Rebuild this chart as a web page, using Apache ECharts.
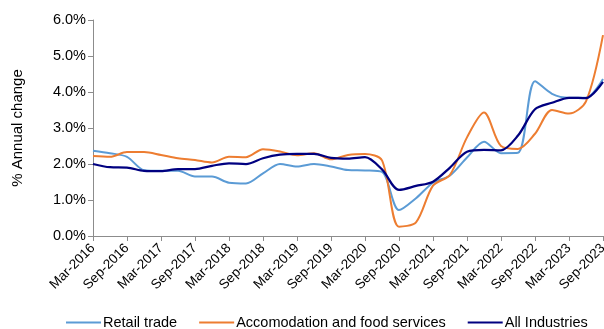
<!DOCTYPE html>
<html>
<head>
<meta charset="utf-8">
<script src="https://cdn.jsdelivr.net/npm/echarts@6/dist/echarts.min.js"></script>
<style>html,body{margin:0;padding:0;background:#fff}#c{width:604px;height:329px}</style>
</head>
<body>
<div id="c"></div>
<script>
const categories = ['Mar-2016','Jun-2016','Sep-2016','Dec-2016','Mar-2017','Jun-2017','Sep-2017','Dec-2017',
  'Mar-2018','Jun-2018','Sep-2018','Dec-2018','Mar-2019','Jun-2019','Sep-2019','Dec-2019',
  'Mar-2020','Jun-2020','Sep-2020','Dec-2020','Mar-2021','Jun-2021','Sep-2021','Dec-2021',
  'Mar-2022','Jun-2022','Sep-2022','Dec-2022','Mar-2023','Jun-2023','Sep-2023'];
const retailTrade = [2.37,2.30,2.20,1.83,1.81,1.81,1.65,1.65,1.48,1.46,1.74,2.00,1.93,2.00,1.93,1.83,
  1.82,1.78,0.72,1.05,1.48,1.68,2.18,2.62,2.30,2.31,4.30,3.95,3.84,3.84,4.36];
const accomFood = [2.22,2.20,2.33,2.33,2.25,2.16,2.11,2.04,2.20,2.19,2.41,2.35,2.24,2.30,2.13,2.25,
  2.28,2.10,0.26,0.38,1.40,1.70,2.74,3.43,2.50,2.42,2.84,3.50,3.40,3.74,5.58];
const allIndustries = [2.00,1.91,1.90,1.81,1.80,1.86,1.86,1.95,2.02,2.00,2.16,2.26,2.28,2.28,2.17,2.15,
  2.19,1.85,1.28,1.39,1.51,1.90,2.34,2.39,2.38,2.79,3.52,3.70,3.84,3.83,4.28];
const yTicks = [0,1,2,3,4,5,6];

const font = 'Liberation Sans, Arial, sans-serif';
const axisColor = '#8c8c8c';
const chart = echarts.init(document.getElementById('c'), null, {renderer:'canvas'});
const mk = (name, data, color, w) => ({
  name, type:'line', data, smooth:0.3, symbol:'none',
  lineStyle:{color, width:w}, itemStyle:{color}
});
chart.setOption({
  animation:false,
  grid:{left:93, right:1, top:20, bottom:93, containLabel:false, outerBoundsMode:'none'},
  legend:{
    left:61, bottom:-6, itemWidth:35, itemHeight:2, itemGap:22, icon:'rect',
    textStyle:{fontFamily:font, fontSize:14.5, color:'#000', padding:[0,0,0,-3]},
    data:['Retail trade','Accomodation and food services','All Industries']
  },
  xAxis:{
    type:'category', data:categories, boundaryGap:false,
    axisLine:{lineStyle:{color:axisColor, width:1}},
    axisTick:{show:true, interval:1, length:5, lineStyle:{color:axisColor}},
    axisLabel:{interval:1, rotate:45, fontFamily:font, fontSize:13.5, color:'#000', margin:10}
  },
  yAxis:{
    type:'value', min:0, max:6, interval:1,
    name:'% Annual change', nameLocation:'middle', nameRotate:90, nameGap:68,
    nameTextStyle:{fontFamily:font, fontSize:15, color:'#000'},
    splitLine:{show:false},
    axisLine:{show:true, lineStyle:{color:axisColor, width:1}},
    axisTick:{show:true, length:5, lineStyle:{color:axisColor}},
    axisLabel:{fontFamily:font, fontSize:14.5, color:'#000', margin:7,
      formatter:v => yTicks.includes(v) ? v.toFixed(1) + '%' : ''}
  },
  series:[
    mk('Retail trade', retailTrade, '#5B9BD5', 2),
    mk('Accomodation and food services', accomFood, '#ED7D31', 2),
    mk('All Industries', allIndustries, '#000080', 2.25)
  ]
});
</script>
</body>
</html>
